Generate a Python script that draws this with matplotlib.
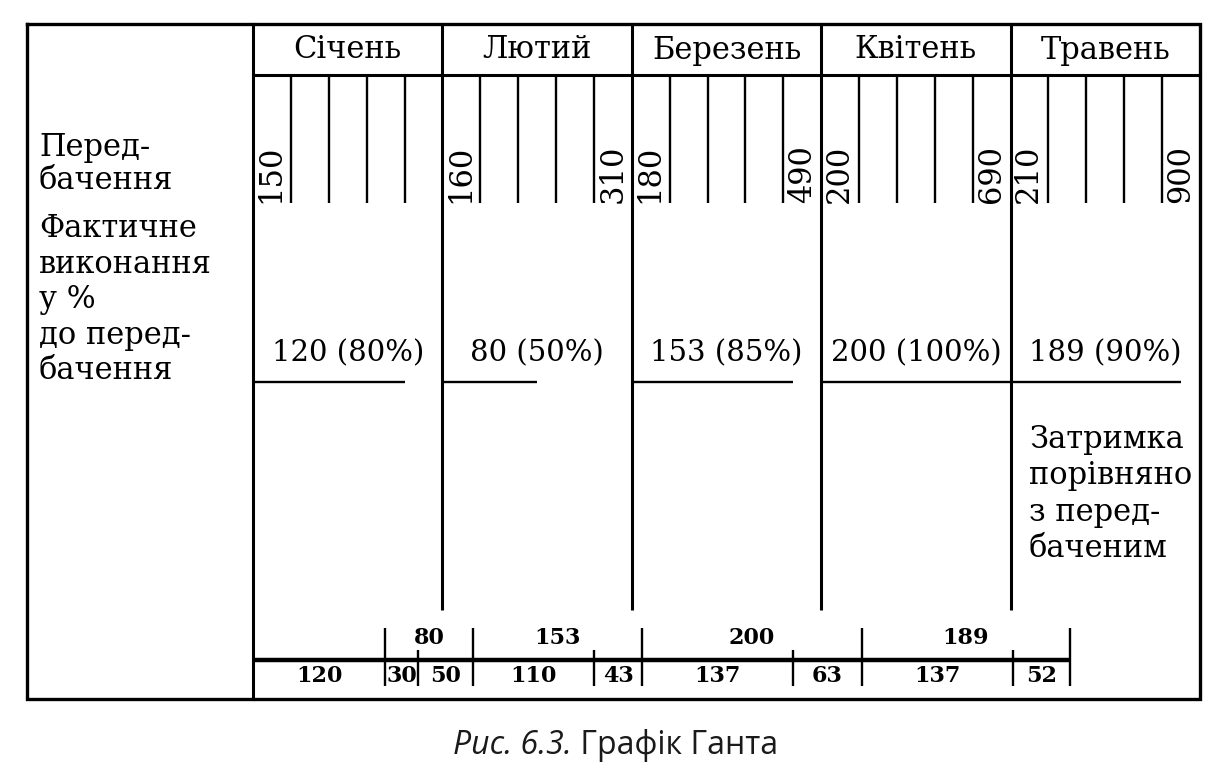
import numpy as np
import matplotlib.pyplot as plt

# дані графіка
months = ['Січень', 'Лютий', 'Березень', 'Квітень', 'Травень']
plan = [150, 160, 180, 200, 210]
plan_cum = [None, 310, 490, 690, 900]
actual = [120, 80, 153, 200, 189]
actual_pct = [80, 50, 85, 100, 90]
# нижня шкала: як фактичне виконання розкладається по місяцях
seg_vals = [120, 30, 50, 110, 43, 137, 63, 137, 52]
seg_groups = [1, 2, 2, 2, 2]

plt.rcParams['font.family'] = ['DejaVu Serif']

W, H = 1217, 777
fig = plt.figure(figsize=(W / 100, H / 100), dpi=100)

# рамка таблиці в піксельних координатах
fr = fig.add_axes([0, 0, 1, 1])
fr.set_xlim(0, W)
fr.set_ylim(H, 0)
fr.axis('off')

left, x0, x1 = 27, 253, 1200
top, head, tick_bot, bottom = 24, 75, 203, 699

fr.plot([left, x1, x1, left, left], [top, top, bottom, bottom, top],
        color='k', lw=2.4, solid_joinstyle='miter', clip_on=False)
fr.plot([x0, x0], [top, bottom], color='k', lw=2.2)
fr.plot([x0, x1], [head, head], color='k', lw=2.2)

fr.text(39, 132, 'Перед-\nбачення', ha='left', va='top', size=22,
        linespacing=1.07)
fr.text(39, 213, 'Фактичне\nвиконання\nу %\nдо перед-\nбачення',
        ha='left', va='top', size=22, linespacing=1.19)
fr.text(1029, 424, 'Затримка\nпорівняно\nз перед-\nбаченим',
        ha='left', va='top', size=22, linespacing=1.22)

# підпис
t1 = fr.text(453, 745, 'Рис. 6.3.', family='Open Sans', style='italic',
             size=23, ha='left', va='center', color='#1a1a1a')
fr.annotate(' Графік Ганта', xy=(1, 0), xycoords=t1, ha='left', va='bottom',
            family='Open Sans', size=23, color='#1a1a1a')

# місячна сітка: кожен місяць має ширину 1
gx = fig.add_axes([x0 / W, 0, (x1 - x0) / W, 1])
gx.set_xlim(0, len(months))
gx.set_ylim(H, 0)
gx.axis('off')

gx.vlines(range(1, len(months)), top, 610, color='k', lw=2.2, clip_on=False)
for i, m in enumerate(months):
    gx.text(i + 0.5, 50, m, ha='center', va='center', size=22)
    gx.vlines(i + np.arange(1, 5) / 5, head, tick_bot, color='k', lw=1.7)
    gx.text(i + 0.095, 203, str(plan[i]), rotation=90, ha='center',
            va='bottom', size=22)
    if plan_cum[i] is not None:
        gx.text(i + 0.9, 203, str(plan_cum[i]), rotation=90, ha='center',
                va='bottom', size=22)
    gx.hlines(382, i, i + actual_pct[i] / 100, color='k', lw=1.7,
              clip_on=False)
    gx.text(i + 0.5, 353, f'{actual[i]} ({actual_pct[i]}%)', ha='center',
            va='center', size=21)

# накопичувальна шкала фактичного виконання
cx = gx.twiny()
cx.set_xlim(0, 860)
cx.axis('off')

edges = np.cumsum([0] + seg_vals)
gidx = np.cumsum([0] + seg_groups)
group_edges = edges[gidx]
sub_edges = [e for k, e in enumerate(edges) if k not in gidx]

cx.hlines(660, 0, edges[-1], color='k', lw=3.2)
cx.vlines(group_edges[1:], 628, 686, color='k', lw=1.7)
cx.vlines(sub_edges, 650, 686, color='k', lw=1.7)
for a, b, v in zip(edges[:-1], edges[1:], seg_vals):
    cx.text((a + b) / 2, 676, str(v), ha='center', va='center', size=16,
            fontweight='bold')
for g in range(1, len(seg_groups)):
    a, b = group_edges[g], group_edges[g + 1]
    cx.text((a + b) / 2, 638, str(actual[g]), ha='center', va='center',
            size=16, fontweight='bold')

fig.savefig('out.png', dpi=100)
